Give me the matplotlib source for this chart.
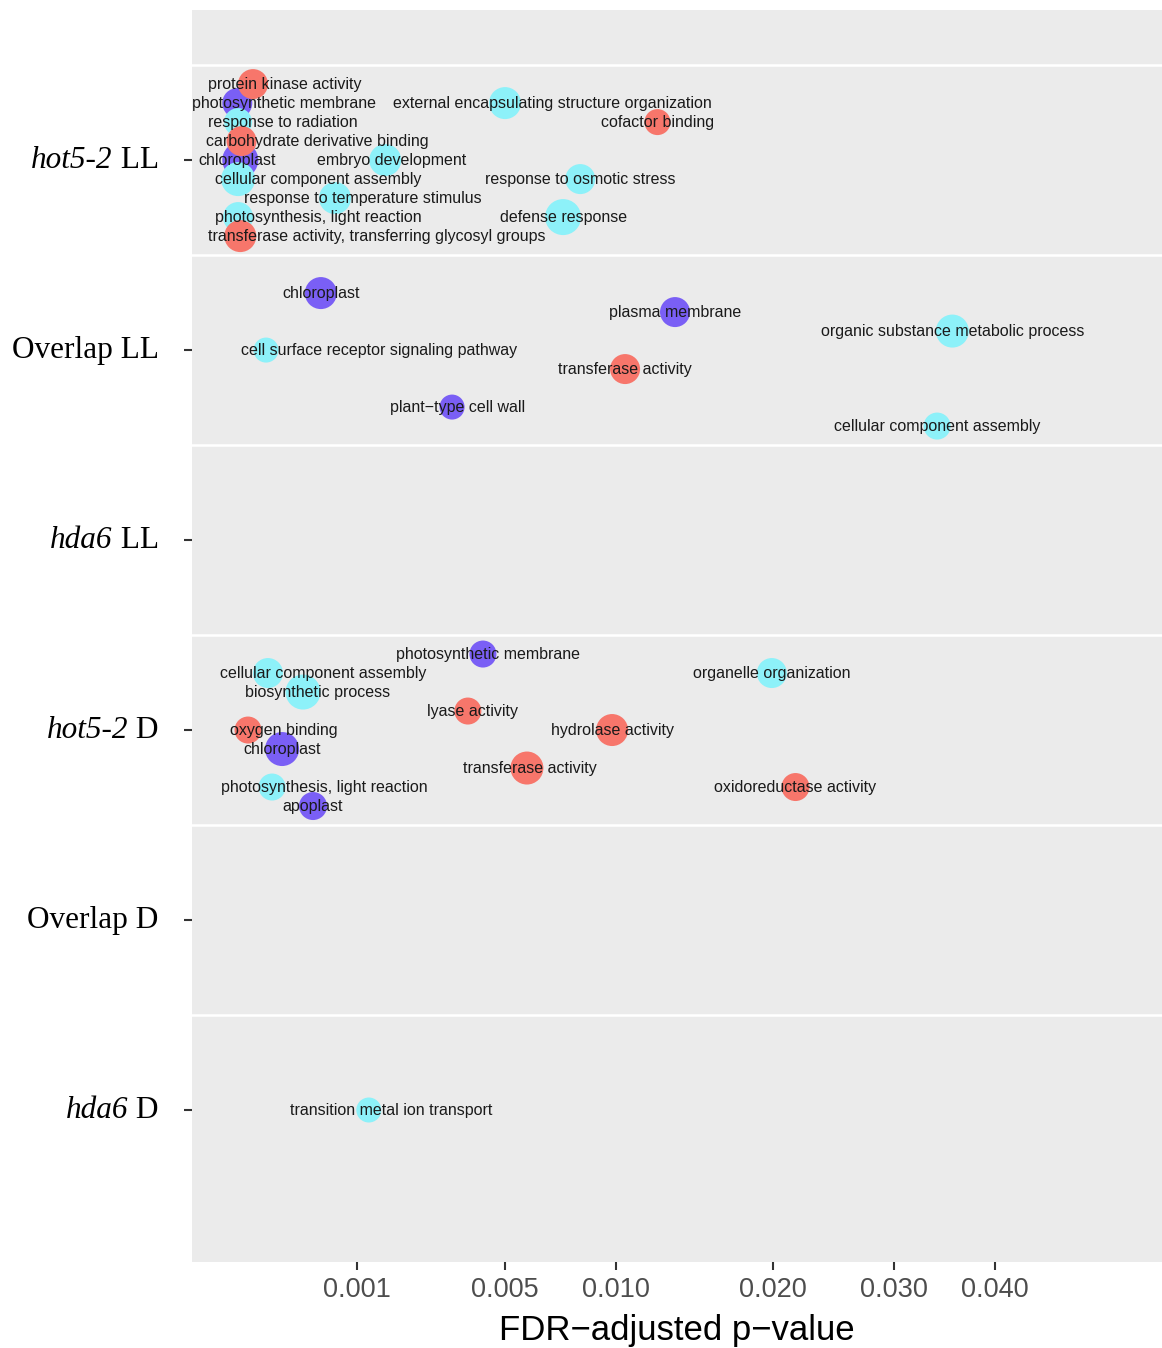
import numpy as np
import matplotlib
matplotlib.use("Agg")
import matplotlib.pyplot as plt
from matplotlib.ticker import FixedLocator, NullLocator
from matplotlib.offsetbox import TextArea, HPacker, AnnotationBbox

# ---- data -------------------------------------------------------------
groups = ["hot5-2 LL", "Overlap LL", "hda6 LL", "hot5-2 D", "Overlap D", "hda6 D"]
# (italic gene part, plain part) of each group label
group_label_parts = [("hot5-2", " LL"), ("", "Overlap LL"), ("hda6", " LL"),
                     ("hot5-2", " D"), ("", "Overlap D"), ("hda6", " D")]

term_group = (["hot5-2 LL"] * 14 + ["Overlap LL"] * 7 + ["hot5-2 D"] * 12 + ["hda6 D"])
terms = [
    "protein kinase activity", "photosynthetic membrane",
    "external encapsulating structure organization", "response to radiation",
    "cofactor binding", "carbohydrate derivative binding", "chloroplast",
    "embryo development", "cellular component assembly", "response to osmotic stress",
    "response to temperature stimulus", "photosynthesis, light reaction",
    "defense response", "transferase activity, transferring glycosyl groups",
    # Overlap LL
    "chloroplast", "plasma membrane", "organic substance metabolic process",
    "cell surface receptor signaling pathway", "transferase activity",
    "plant\u2212type cell wall", "cellular component assembly",
    # hot5-2 D
    "photosynthetic membrane", "cellular component assembly", "organelle organization",
    "biosynthetic process", "lyase activity", "oxygen binding", "hydrolase activity",
    "chloroplast", "transferase activity", "photosynthesis, light reaction",
    "oxidoreductase activity", "apoplast",
    # hda6 D
    "transition metal ion transport",
]
ontology = ["MF", "CC", "BP", "BP", "MF", "MF", "CC", "BP", "BP", "BP", "BP", "BP", "BP", "MF",
            "CC", "CC", "BP", "BP", "MF", "CC", "BP",
            "CC", "BP", "BP", "BP", "MF", "MF", "MF", "CC", "MF", "BP", "MF", "CC",
            "BP"]
fdr = [1.8e-5, 1e-8, 0.0050, 1e-7, 0.0123, 1.5e-6, 8e-7, 0.00153, 1e-7, 0.0082,
       0.00067, 1e-7, 0.0074, 8e-7,
       0.00049, 0.01335, 0.0356, 5.9e-5, 0.01048, 0.00322, 0.0341,
       0.00421, 6.7e-5, 0.0199, 0.000304, 0.00371, 8.6e-6, 0.00979, 0.000142,
       0.00585, 8.6e-5, 0.0217, 0.000403,
       0.00121]
# row rank of each term inside its group band
row_rank = [-4, -3, -3, -2, -2, -1, 0, 0, 1, 1, 2, 3, 3, 4,
            -3, -2, -1, 0, 1, 3, 4,
            -4, -3, -3, -2, -1, 0, 0, 1, 2, 3, 3, 4,
            0]
gene_count = [10, 10, 12, 8, 6, 10, 16, 12, 14, 10, 12, 10, 16, 12,
              12, 10, 13, 5, 10, 5, 7,
              7, 10, 10, 15, 7, 7, 12, 14, 13, 7, 8, 8,
              5]

# horizontal label shift (pixels) so that overlapping labels stay readable
label_dx = [32, 47, 47, 45, 0, 76, -3, 6, 80, 0, 28, 80, 0, 136,
            0, 0, 0, 113, 0, 5, 0,
            5, 55, 0, 15, 5, 36, 0, 0, 3, 52, 0, 0,
            22]

x_ticks = [0.001, 0.005, 0.010, 0.020, 0.030, 0.040]
x_tick_labels = ["0.001", "0.005", "0.010", "0.020", "0.030", "0.040"]

colors = {"MF": "#F7766B", "BP": "#8DF1F9", "CC": "#7A5FF5"}
layer = {"CC": 2, "BP": 3, "MF": 4}

# ---- figure -------------------------------------------------------------
fig = plt.figure(figsize=(11.62, 13.48), dpi=100)
ax = fig.add_axes([192 / 1162, 1 - 1262 / 1348, 1 - 192 / 1162, (1262 - 10) / 1348])
ax.set_facecolor("#EBEBEB")
for s in ax.spines.values():
    s.set_visible(False)


def fwd(x):
    x = np.asarray(x, dtype=float)
    return np.sign(x) * np.sqrt(np.abs(x))


def inv(y):
    y = np.asarray(y, dtype=float)
    return np.sign(y) * y ** 2


ax.set_xscale("function", functions=(fwd, inv))
ax.set_xlim(-0.0001402, 0.05952)
ax.set_ylim(5.8, -0.79)

for i in range(len(groups)):
    ax.axhline(i - 0.5, color="white", lw=1.8, zorder=1)

gidx = {g: i for i, g in enumerate(groups)}
for term, g, ont, p, r, n, dx in zip(terms, term_group, ontology, fdr, row_rank,
                                       gene_count, label_dx):
    y = gidx[g] + 0.1 * r
    d_px = 20 + n
    ax.scatter([p], [y], s=(d_px * 0.72) ** 2, color=colors[ont],
               edgecolors="none", zorder=layer[ont])
    ax.annotate(term, xy=(p, y), xytext=(dx, 0), textcoords="offset pixels",
                ha="center", va="center", fontsize=11.5, color="#1A1A1A",
                family="Liberation Sans", zorder=6)

ax.xaxis.set_major_locator(FixedLocator(x_ticks))
ax.set_xticklabels(x_tick_labels)
ax.xaxis.set_minor_locator(NullLocator())
ax.set_yticks(range(len(groups)))
ax.set_yticklabels([""] * len(groups))
ax.yaxis.set_minor_locator(NullLocator())

ax.tick_params(axis="x", length=5.5, width=1.5, color="#333333", pad=5,
               labelsize=19.5, labelcolor="#4D4D4D")
for t in ax.get_xticklabels():
    t.set_family("Liberation Sans")
ax.tick_params(axis="y", length=5.5, width=1.5, color="#333333")

# group labels: gene names in italics, the rest upright
serif = dict(family="Liberation Serif", size=22.5, color="black")
for i, (it_part, rm_part) in enumerate(group_label_parts):
    pieces = []
    if it_part:
        pieces.append(TextArea(it_part, textprops=dict(serif, style="italic")))
    pieces.append(TextArea(rm_part, textprops=serif))
    box = HPacker(children=pieces, pad=0, sep=0, align="baseline")
    ab = AnnotationBbox(box, (0, i), xycoords=ax.get_yaxis_transform(),
                        xybox=(-24, 0), boxcoords="offset points",
                        box_alignment=(1, 0.5), frameon=False, pad=0,
                        annotation_clip=False)
    ax.add_artist(ab)

ax.set_xlabel("FDR\u2212adjusted p\u2212value", fontsize=25, family="Liberation Sans",
              color="black", labelpad=8)

fig.savefig("out.png", dpi=100, facecolor="white")
